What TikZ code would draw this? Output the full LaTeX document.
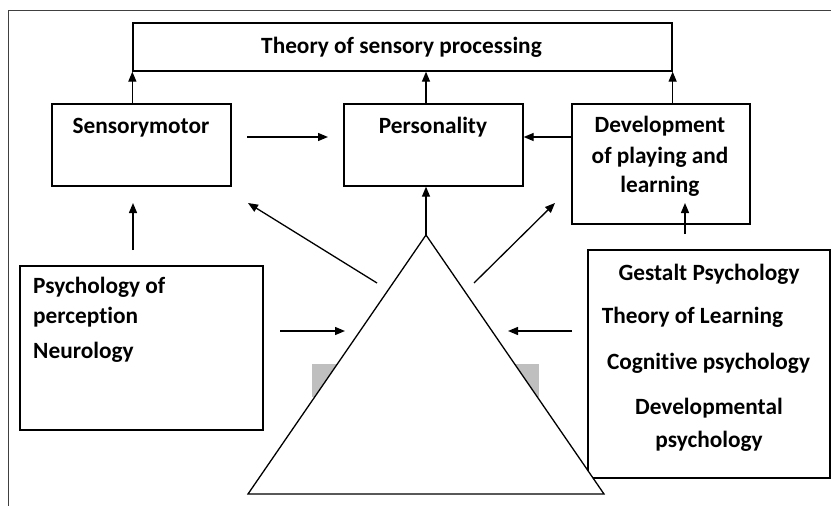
\documentclass[tikz,border=0pt]{standalone}
\usepackage{fontspec}
\setmainfont[Ligatures=NoCommon]{Carlito}
\usetikzlibrary{positioning,arrows.meta}

\begin{document}
\begin{tikzpicture}[
                x=1pt,y=-1pt,
                box/.style={draw=black,line width=1.3pt,fill=white,inner sep=0pt},
                txt/.style={font=\fontsize{23.3}{31}\selectfont\bfseries,inner sep=0pt,anchor=base},
                link/.style={-{Triangle[length=10pt,width=8pt]},line width=1.3pt}
            ]
                \useasboundingbox (0,0) rectangle (831,506);
                \draw[line width=1pt,black!75] (8,506) -- (8,10) -- (831,10);
                % boxes
                \node[box,minimum width=539,minimum height=48] (theory) at (402.5,47) {};
                \node[box,minimum width=179,minimum height=82] (smotor) at (141.5,145) {};
                \node[box,minimum width=179,minimum height=82] (person) at (433.5,145) {};
                \node[box,minimum width=178,minimum height=120] (devel) at (661,164) {};
                \node[box,minimum width=243,minimum height=164] (percep) at (141.5,348) {};
                \node[box,minimum width=242,minimum height=228] (schools) at (709,364) {};
                % triangle
                \fill[black!25] (312,364) rectangle (539,397);
                \coordinate (apex) at (426,235);
                \coordinate (baseL) at (248,494);
                \coordinate (baseR) at (604,494);
                \filldraw[fill=white,line width=1.3pt] (baseL) -- (apex) -- (baseR) -- cycle;
                % texts
                \node[txt] (theorytxt) at (401.5,53) {Theory of sensory processing};
                \node[txt] (smotortxt) at (141,133) {Sensorymotor};
                \node[txt] (persontxt) at (433,133) {Personality};
                \node[txt] (develA) at (660,132) {Development};
                \node[txt] (develB) at (660,163) {of playing and};
                \node[txt] (develC) at (660,192) {learning};
                \node[txt,anchor=base west] (percepA) at (33,293) {Psychology of};
                \node[txt,anchor=base west] (percepB) at (33,323) {perception};
                \node[txt,anchor=base west] (percepC) at (33,358) {Neurology};
                \node[txt] (schoolA) at (709,280) {Gestalt Psychology};
                \node[txt] (schoolB) at (692.5,323) {Theory of Learning};
                \node[txt] (schoolC) at (708.5,369) {Cognitive psychology};
                \node[txt] (schoolD) at (709,414) {Developmental};
                \node[txt] (schoolE) at (709,447) {psychology};
                % free ends
                \coordinate (rowA) at (0,137);
                \coordinate (smA) at (247,137);
                \coordinate (smB) at (328,137);
                \coordinate (upA) at (133,250);
                \coordinate (upB) at (133,203);
                \coordinate (diagLA) at (377,283);
                \coordinate (diagLB) at (248,203);
                \coordinate (diagRA) at (474,283);
                \coordinate (diagRB) at (555,203);
                \coordinate (upRA) at (685,234);
                \coordinate (upRB) at (685,203);
                \coordinate (inLA) at (280,331);
                \coordinate (inLB) at (345,331);
                \coordinate (inRA) at (572,331);
                \coordinate (inRB) at (508,331);
                % arrows
                \draw[link] (theory.south west |- smotor.north) -- (theory.south west);
                \draw[link] (apex |- person.north) -- (apex |- theory.south);
                \draw[link] (theory.south east |- devel.north) -- (theory.south east);
                \draw[link] (smA) -- (smB);
                \draw[link] (devel.west |- rowA) -- (person.east |- rowA);
                \draw[link] (apex) -- (apex |- person.south);
                \draw[link] (upA) -- (upB);
                \draw[link] (diagLA) -- (diagLB);
                \draw[link] (diagRA) -- (diagRB);
                \draw[link] (upRA) -- (upRB);
                \draw[link] (inLA) -- (inLB);
                \draw[link] (inRA) -- (inRB);
            \end{tikzpicture}
\end{document}
